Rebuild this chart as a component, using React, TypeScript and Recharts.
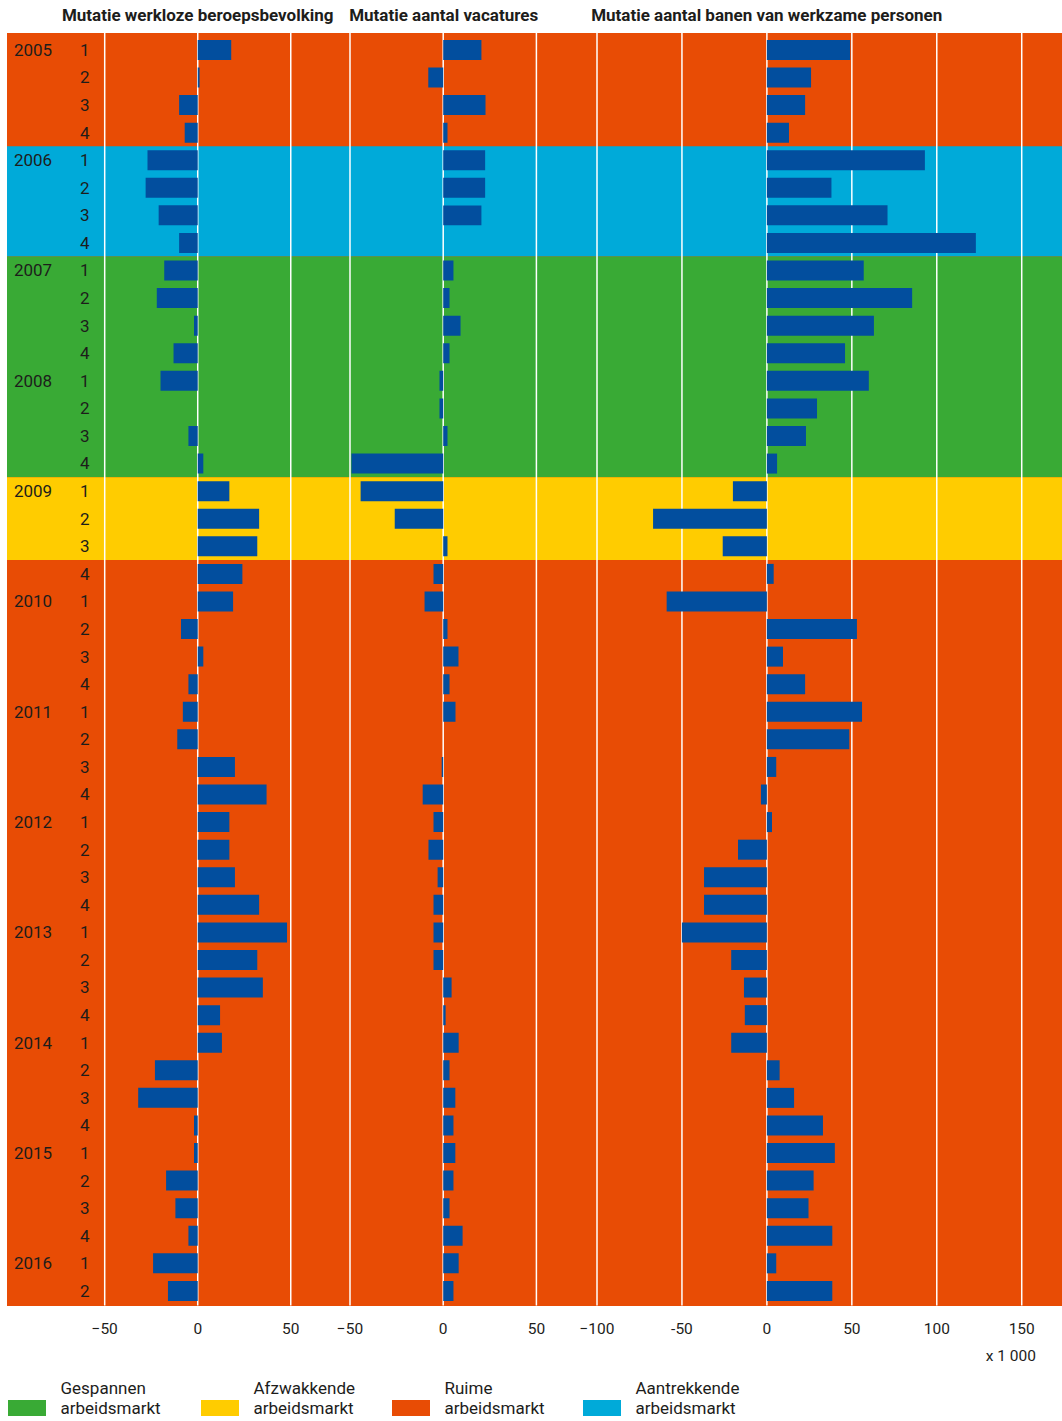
import React from 'react';
import { BarChart, Bar, XAxis, YAxis, CartesianGrid, ReferenceArea } from 'recharts';

// ---- data ----
const categories = [
  '2005-1', '2005-2', '2005-3', '2005-4',
  '2006-1', '2006-2', '2006-3', '2006-4',
  '2007-1', '2007-2', '2007-3', '2007-4',
  '2008-1', '2008-2', '2008-3', '2008-4',
  '2009-1', '2009-2', '2009-3', '2009-4',
  '2010-1', '2010-2', '2010-3', '2010-4',
  '2011-1', '2011-2', '2011-3', '2011-4',
  '2012-1', '2012-2', '2012-3', '2012-4',
  '2013-1', '2013-2', '2013-3', '2013-4',
  '2014-1', '2014-2', '2014-3', '2014-4',
  '2015-1', '2015-2', '2015-3', '2015-4',
  '2016-1', '2016-2',
];

// Mutatie werkloze beroepsbevolking (x 1 000)
const werkloze = [
  18, 1, -10, -7,
  -27, -28, -21, -10,
  -18, -22, -2, -13,
  -20, 0, -5, 3,
  17, 33, 32, 24,
  19, -9, 3, -5,
  -8, -11, 20, 37,
  17, 17, 20, 33,
  48, 32, 35, 12,
  13, -23, -32, -2,
  -2, -17, -12, -5,
  -24, -16,
];

// Mutatie aantal vacatures (x 1 000)
const vacatures = [
  20.5, -8, 22.7, 2.3,
  22.5, 22.5, 20.5, 0,
  5.5, 3.4, 9.3, 3.4,
  -2, -2, 2.3, -49.2,
  -44.3, -26, 2.3, -5.2,
  -10, 2.3, 8.2, 3.4,
  6.6, 0, -0.8, -11,
  -5.2, -7.9, -3, -5.2,
  -5.2, -5.2, 4.5, 1.3,
  8.3, 3.4, 6.5, 5.5,
  6.5, 5.5, 3.4, 10.4,
  8.3, 5.5,
];

// Mutatie aantal banen van werkzame personen (x 1 000)
const banen = [
  49, 26, 22.5, 13,
  93, 38, 71, 123,
  57, 85.5, 63, 46,
  60, 29.5, 23, 6,
  -20, -67, -26, 4,
  -59, 53, 9.5, 22.5,
  56, 48.5, 5.5, -3.5,
  3, -17, -37, -37,
  -50, -21, -13.5, -13,
  -21, 7.5, 16, 33,
  40, 27.5, 24.5, 38.5,
  5.5, 38.5,
];

const marketColors: Record<string, string> = {
  gespannen: '#39AA35',
  afzwakkende: '#FFCC00',
  ruime: '#E84C05',
  aantrekkende: '#00AAD9',
};

const bands = [
  { from: '2005-1', to: '2005-4', market: 'ruime' },
  { from: '2006-1', to: '2006-4', market: 'aantrekkende' },
  { from: '2007-1', to: '2008-4', market: 'gespannen' },
  { from: '2009-1', to: '2009-3', market: 'afzwakkende' },
  { from: '2009-4', to: '2016-2', market: 'ruime' },
];

const legendItems = [
  { market: 'gespannen', lines: ['Gespannen', 'arbeidsmarkt'] },
  { market: 'afzwakkende', lines: ['Afzwakkende', 'arbeidsmarkt'] },
  { market: 'ruime', lines: ['Ruime', 'arbeidsmarkt'] },
  { market: 'aantrekkende', lines: ['Aantrekkende', 'arbeidsmarkt'] },
];

const panelTitles = [
  'Mutatie werkloze beroepsbevolking',
  'Mutatie aantal vacatures',
  'Mutatie aantal banen van werkzame personen',
];

const ticks1 = [-50, 0, 50];
const ticks2 = [-50, 0, 50];
const ticks3 = [-100, -50, 0, 50, 100, 150];

const data = categories.map((period, i) => ({
  period,
  werkloze: werkloze[i],
  vacatures: vacatures[i],
  banen: banen[i],
}));

// ---- layout ----
const FONT = 'Roboto, "Noto Sans", sans-serif';
const BAR_COLOR = '#024E9E';
const TEXT_COLOR = '#1d1d1b';
const TOP = 33.3;
const PLOT_H = 1272.4;
const AXIS_H = 44;
const Y_PAD = { top: 2.9, bottom: 0.9 };
const LABEL_W = 97.7;
const SIDE = 30;

const fmtMinus = (v: number) => (v < 0 ? '\u2212' + Math.abs(v) : String(v));
const fmtPanel3 = (v: number) => (v === -50 ? '-50' : fmtMinus(v));

const PeriodTick = (props: any) => {
  const { x, y, payload } = props;
  const [year, q] = String(payload.value).split('-');
  return (
    <g>
      {q === '1' && (
        <text x={x - 90.7} y={y} dy="0.36em" textAnchor="start" fontSize={17} fill={TEXT_COLOR} fontFamily={FONT}>
          {year}
        </text>
      )}
      <text x={x - 20} y={y} dy="0.36em" textAnchor="middle" fontSize={17} fill={TEXT_COLOR} fontFamily={FONT}>
        {q}
      </text>
    </g>
  );
};

type PanelProps = {
  dataKey: string;
  left: number;
  plotWidth: number;
  domain: [number, number];
  ticks: number[];
  fmt: (v: number) => string;
  withLabels?: boolean;
};

const Panel = ({ dataKey, left, plotWidth, domain, ticks, fmt, withLabels }: PanelProps) => {
  const yw = withLabels ? LABEL_W : 0;
  const ml = withLabels ? 0 : SIDE;
  return (
    <div style={{ position: 'absolute', left: left - yw - ml, top: TOP }}>
      <BarChart
        width={plotWidth + yw + ml + SIDE}
        height={PLOT_H + AXIS_H}
        data={data}
        layout="vertical"
        margin={{ top: 0, right: SIDE, bottom: 0, left: ml }}
      >
        <CartesianGrid horizontal={false} stroke="#ffffff" strokeWidth={1.5} syncWithTicks />
        <XAxis
          type="number"
          domain={domain}
          ticks={ticks}
          allowDataOverflow
          interval={0}
          axisLine={false}
          tickLine={false}
          tickSize={0}
          tickMargin={18}
          height={AXIS_H}
          tickFormatter={fmt}
          tick={{ fontSize: 15.5, fill: TEXT_COLOR, fontFamily: FONT }}
        />
        <YAxis
          type="category"
          dataKey="period"
          hide={!withLabels}
          width={yw}
          padding={Y_PAD}
          axisLine={false}
          tickLine={false}
          tickSize={0}
          tickMargin={0}
          interval={0}
          tick={withLabels ? <PeriodTick /> : false}
        />
        <Bar dataKey={dataKey} fill={BAR_COLOR} barSize={20} isAnimationActive={false} />
      </BarChart>
    </div>
  );
};

const Background = () => (
  <div
    style={{
      position: 'absolute',
      left: 7,
      top: TOP,
      width: 1055,
      height: PLOT_H,
      background: marketColors.ruime,
    }}
  >
    <BarChart width={1055} height={PLOT_H} data={data} layout="vertical" margin={{ top: 0, right: 0, bottom: 0, left: 0 }}>
      <XAxis type="number" domain={[0, 1]} hide />
      <YAxis type="category" dataKey="period" hide padding={Y_PAD} />
      {bands.map((b, i) => (
        <ReferenceArea
          key={i}
          y1={b.from}
          y2={b.to}
          fill={marketColors[b.market]}
          fillOpacity={1}
          stroke="none"
          ifOverflow="visible"
        />
      ))}
      <Bar dataKey="werkloze" fill="transparent" isAnimationActive={false} />
    </BarChart>
  </div>
);

const titleCenters = [197.7, 443.7, 766.7];
const legendX = [8, 201, 392, 583];

export default function App() {
  return (
    <div
      style={{
        position: 'absolute',
        left: 0,
        top: 0,
        width: 1062,
        height: 1421,
        overflow: 'hidden',
        background: '#ffffff',
        fontFamily: FONT,
        color: TEXT_COLOR,
      }}
    >
      {panelTitles.map((t, i) => (
        <div
          key={i}
          style={{
            position: 'absolute',
            left: titleCenters[i] - 250,
            width: 500,
            top: 4.8,
            height: 20,
            lineHeight: '20px',
            fontSize: 17,
            fontWeight: 700,
            textAlign: 'center',
            whiteSpace: 'nowrap',
          }}
        >
          {t}
        </div>
      ))}

      <Background />

      <Panel dataKey="werkloze" left={104.7} plotWidth={245.6} domain={[-50, 82]} ticks={ticks1} fmt={fmtMinus} withLabels />
      <Panel dataKey="vacatures" left={350.3} plotWidth={238.6} domain={[-50, 78]} ticks={ticks2} fmt={fmtMinus} />
      <Panel dataKey="banen" left={596.7} plotWidth={465.5} domain={[-100, 174]} ticks={ticks3} fmt={fmtPanel3} />

      <div
        style={{
          position: 'absolute',
          left: 900,
          width: 136,
          top: 1346,
          height: 20,
          lineHeight: '20px',
          fontSize: 15.5,
          textAlign: 'right',
        }}
      >
        x 1 000
      </div>

      {legendItems.map((item, i) => (
        <div key={item.market}>
          <div
            style={{
              position: 'absolute',
              left: legendX[i],
              top: 1400,
              width: 38,
              height: 16,
              background: marketColors[item.market],
            }}
          />
          <div
            style={{
              position: 'absolute',
              left: legendX[i] + 52.5,
              top: 1379,
              fontSize: 17,
              lineHeight: '19.5px',
              whiteSpace: 'nowrap',
            }}
          >
            {item.lines.map((l, j) => (
              <div key={j}>{l}</div>
            ))}
          </div>
        </div>
      ))}
    </div>
  );
}
